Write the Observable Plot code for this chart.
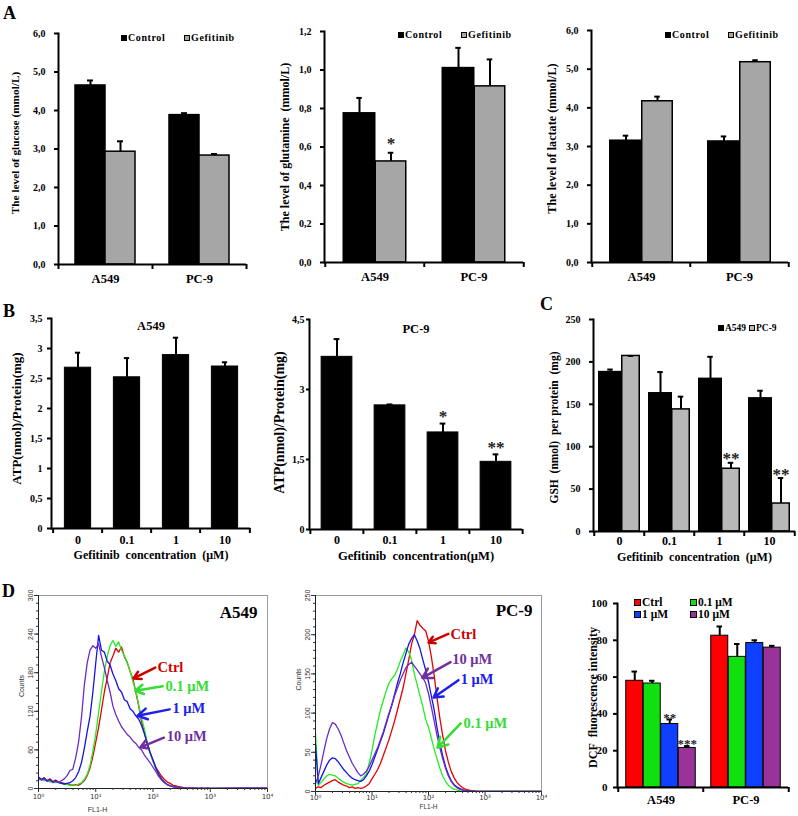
<!DOCTYPE html>
<html><head><meta charset="utf-8">
<script src="https://cdn.jsdelivr.net/npm/d3@7"></script>
<script src="https://cdn.jsdelivr.net/npm/@observablehq/plot@0.6"></script>
<style>
body{margin:0;background:#fff}
#fig{position:relative;width:798px;height:816px;overflow:hidden;background:#fff;font-family:'Liberation Serif',serif;font-weight:bold;color:#000}
.lbl{position:absolute;font-size:18px;line-height:1}
.leg{position:absolute;display:flex;align-items:center;white-space:nowrap}
.sw{display:inline-block;box-sizing:border-box;border:1px solid #000;margin-right:1px}
</style></head><body><div id="fig"></div>
<script>
// ---------- Panel A data ----------
const cellLines = ["A549", "PC-9"];
const treatmentsA = ["Control", "Gefitinib"];
const glucoseControl = [4.65, 3.88];
const glucoseControlSD = [0.13, 0.05];
const glucoseGefitinib = [2.93, 2.83];
const glucoseGefitinibSD = [0.27, 0.04];
const glutamineControl = [0.775, 1.01];
const glutamineControlSD = [0.08, 0.105];
const glutamineGefitinib = [0.525, 0.915];
const glutamineGefitinibSD = [0.045, 0.14];
const glutamineGefitinibSig = ["*", ""];
const lactateControl = [3.15, 3.13];
const lactateControlSD = [0.13, 0.13];
const lactateGefitinib = [4.17, 5.18];
const lactateGefitinibSD = [0.12, 0.05];
const ticksA6 = [0, 1, 2, 3, 4, 5, 6];
const tickLabelsA6 = ["0,0", "1,0", "2,0", "3,0", "4,0", "5,0", "6,0"];
const ticksA12 = [0, 0.2, 0.4, 0.6, 0.8, 1.0, 1.2];
const tickLabelsA12 = ["0,0", "0,2", "0,4", "0,6", "0,8", "1,0", "1,2"];

// ---------- Panel B data ----------
const concentrations = ["0", "0.1", "1", "10"];
const atpA549 = [2.68, 2.52, 2.89, 2.70];
const atpA549SD = [0.25, 0.32, 0.29, 0.07];
const atpPC9 = [3.70, 2.66, 2.08, 1.45];
const atpPC9SD = [0.38, 0.02, 0.19, 0.16];
const atpPC9Sig = ["", "", "*", "**"];
const ticksB1 = [0, 0.5, 1, 1.5, 2, 2.5, 3, 3.5];
const tickLabelsB1 = ["0", "0,5", "1", "1,5", "2", "2,5", "3", "3,5"];
const ticksB2 = [0, 1.5, 3, 4.5];
const tickLabelsB2 = ["0", "1,5", "3", "4,5"];

// ---------- Panel C data ----------
const gshA549 = [188, 163, 180, 157];
const gshA549SD = [3, 25, 26, 9];
const gshPC9 = [207, 144, 74, 33];
const gshPC9SD = [0, 15, 7, 30];
const gshPC9Sig = ["", "", "**", "**"];
const ticksC = [0, 50, 100, 150, 200, 250];
const tickLabelsC = ["0", "50", "100", "150", "200", "250"];

// ---------- Panel D data ----------
const doses = ["Ctrl", "0.1 μM", "1 μM", "10 μM"];
const dcfCtrl = [58, 82.5];
const dcfCtrlSD = [5, 5];
const dcf01 = [56.5, 71];
const dcf01SD = [1.5, 7];
const dcf1 = [34.5, 78.5];
const dcf1SD = [2.5, 1.5];
const dcf1Sig = ["**", ""];
const dcf10 = [21.5, 76];
const dcf10SD = [1, 1];
const dcf10Sig = ["***", ""];
const ticksD = [0, 20, 40, 60, 80, 100];
const tickLabelsD = ["0", "20", "40", "60", "80", "100"];

// flow cytometry histograms: log10(FL1-H) channel and counts
const flowLogFL1 = [0.00,0.05,0.10,0.15,0.20,0.25,0.30,0.35,0.40,0.45,
  0.50,0.55,0.60,0.65,0.70,0.75,0.80,0.85,0.90,0.95,
  1.00,1.05,1.10,1.15,1.20,1.25,1.30,1.35,1.40,1.45,
  1.50,1.55,1.60,1.65,1.70,1.75,1.80,1.85,1.90,1.95,
  2.00,2.05,2.10,2.15,2.20,2.25,2.30,2.35,2.40,2.45,
  2.50,2.55,2.60,2.65,2.70,2.75,2.80,2.85,2.90,2.95,
  3.00,3.50,4.00];
const a549FlowCtrl = [16,14,17,12,15,11,13,10,9,8,
  7,6,5,6,5,8,12,20,32,50,
  72,95,122,150,172,195,206,218,212,220,
  205,196,182,170,150,128,104,88,68,55,
  44,33,26,19,14,10,8,5,4,3,
  2,1,1,0,1,0,0,0,0,0,
  0,0,0];
const a549Flow01 = [13,15,12,14,10,12,9,10,8,7,
  6,5,6,5,7,9,14,22,36,58,
  85,118,150,182,205,222,230,221,228,215,
  206,195,182,166,152,130,110,92,72,56,
  42,30,21,14,9,6,4,3,2,1,
  1,0,0,0,0,0,0,0,0,0,
  0,0,0];
const a549Flow1 = [18,14,16,12,14,10,12,9,8,7,
  8,9,12,17,26,40,62,88,112,150,
  195,238,215,212,198,192,178,168,155,150,
  138,135,124,120,113,108,98,85,70,56,
  44,32,22,15,10,6,4,3,2,1,
  1,0,0,0,0,0,0,0,0,0,
  0,0,0];
const a549Flow10 = [16,13,15,11,13,9,11,10,12,15,
  20,28,30,48,72,110,160,195,215,222,
  218,225,205,188,168,150,128,115,105,96,
  90,84,80,74,70,64,60,52,46,40,
  33,26,19,13,9,6,4,3,2,1,
  1,1,0,1,0,1,0,1,0,1,
  0,1,1];
const pc9FlowCtrl = [4,6,5,8,10,12,14,15,12,10,
  8,7,5,6,4,5,4,5,7,10,
  16,22,28,36,46,56,66,78,90,104,
  118,132,150,168,188,200,218,212,208,205,
  192,172,148,120,94,72,52,38,26,18,
  12,8,5,3,2,1,1,0,0,0,
  0,0,0];
const pc9Flow01 = [75,8,12,16,20,22,21,20,17,14,
  12,10,9,8,9,10,14,18,22,36,
  52,72,88,104,116,128,138,144,148,156,
  166,174,183,178,168,150,136,122,108,92,
  82,68,54,42,30,20,13,8,5,3,
  2,1,0,0,0,0,0,0,0,0,
  0,0,0];
const pc9Flow1 = [60,10,18,26,34,40,43,42,38,33,
  28,24,20,17,15,14,13,15,20,26,
  34,44,54,64,74,86,98,110,124,138,
  150,164,176,188,195,200,192,182,168,155,
  140,122,104,82,62,46,32,22,14,9,
  6,4,2,1,1,0,0,0,0,0,
  0,0,0];
const pc9Flow10 = [10,20,35,52,68,80,88,86,80,72,
  62,52,44,36,30,24,20,22,26,32,
  40,48,56,66,76,88,100,110,122,132,
  142,150,158,162,165,160,155,150,145,138,
  125,108,90,72,56,42,30,20,13,8,
  5,3,2,1,1,0,0,0,0,0,
  0,0,0];
const flowTicks = [0, 1, 2, 3, 4];
const flowTickLabels = ["10⁰", "10¹", "10²", "10³", "10⁴"];
const a549CountTicks = [0, 60, 120, 180, 240, 300];
const pc9CountTicks = [0, 50, 100, 150, 200, 250];
// annotation labels (data space)
const a549FlowLabels = ["Ctrl", "0.1 μM", "1 μM", "10 μM"];
const a549FlowLabelX = [2.08, 2.22, 2.34, 2.24];
const a549FlowLabelY = [188, 159, 124, 81];
const a549ArrowX1 = [2.04, 2.17, 2.29, 2.19];
const a549ArrowY1 = [188, 159, 123, 79];
const a549ArrowX2 = [1.66, 1.69, 1.73, 1.78];
const a549ArrowY2 = [171, 152, 113, 64];
const pc9FlowLabels = ["Ctrl", "10 μM", "1 μM", "0.1 μM"];
const pc9FlowLabelX = [2.39, 2.42, 2.57, 2.62];
const pc9FlowLabelY = [200, 168, 143, 87];
const pc9ArrowX1 = [2.35, 2.39, 2.53, 2.57];
const pc9ArrowY1 = [201, 165, 142, 87];
const pc9ArrowX2 = [2.0, 1.89, 2.09, 2.16];
const pc9ArrowY2 = [190, 145, 120, 56];

// ---------- styles ----------
const SERIF = "'Liberation Serif', 'Times New Roman', serif";
const SANS = "'Liberation Sans', Arial, sans-serif";
const BLACK = "#000000", GRAY = "#a6a6a6";
const doseColor = {"Ctrl": "#ff0000", "0.1 μM": "#10e010", "1 μM": "#1040ff", "10 μM": "#993399"};
const flowColor = {"Ctrl": "#e80000", "0.1 μM": "#22ee22", "1 μM": "#1414e6", "10 μM": "#6a2cc4"};
const flowTextColor = {"Ctrl": "#cc0000", "0.1 μM": "#33dd33", "1 μM": "#2020ee", "10 μM": "#7030a0"};

const fig = document.getElementById("fig");
function place(node, left, top) {
  node.style.position = "absolute";
  node.style.left = left + "px";
  node.style.top = top + "px";
  fig.appendChild(node);
}
function label(text, left, top) {
  const d = document.createElement("div");
  d.className = "lbl"; d.textContent = text;
  place(d, left, top);
}
function legendItem(text, color, left, top, o) {
  const d = document.createElement("div");
  d.className = "leg";
  d.style.fontSize = o.font + "px";
  d.style.lineHeight = o.lh + "px";
  d.style.letterSpacing = (o.ls || 0) + "px";
  const s = document.createElement("span");
  s.className = "sw";
  s.style.width = o.sw + "px"; s.style.height = o.sw + "px"; s.style.background = color;
  d.appendChild(s);
  d.appendChild(document.createTextNode(text));
  place(d, left, top);
}

function barPanel(o) {
  const plotW = o.width - o.mL - o.mR;
  const bandW = plotW / o.groups.length;
  const total = d3.sum(o.series, s => s.w);
  let acc = -total / 2;
  const parts = o.series.map(s => {
    const l = acc; acc += s.w; const r = acc;
    const rows = o.groups.map((g, i) => ({group: g, value: s.values[i], top: s.values[i] + s.errors[i], sig: s.sig ? s.sig[i] : ""}));
    return {s, l, r, c: (l + r) / 2, rows};
  });
  const marks = [];
  for (const p of parts)
    marks.push(Plot.barY(p.rows, {x: "group", y: "value", fill: p.s.color, stroke: BLACK, strokeWidth: o.barStroke,
      insetLeft: bandW / 2 + p.l, insetRight: bandW / 2 - p.r}));
  for (const p of parts) {
    marks.push(Plot.ruleX(p.rows, {x: "group", y1: "value", y2: "top", dx: p.c, stroke: BLACK, strokeWidth: 2}));
    marks.push(Plot.tickY(p.rows, {x: "group", y: "top", insetLeft: bandW / 2 + p.c - o.cap, insetRight: bandW / 2 - p.c - o.cap, stroke: BLACK, strokeWidth: 2}));
    const sig = p.rows.filter(d => d.sig);
    if (sig.length) marks.push(Plot.text(sig, {x: "group", y: "top", text: "sig", dx: p.c, dy: o.sigDy, fontSize: o.sigSize, fill: "#222"}));
  }
  marks.push(Plot.ruleY([0], {stroke: BLACK, strokeWidth: 2}));
  marks.push(Plot.frame({anchor: "left", stroke: BLACK, strokeWidth: 2}));
  marks.push(Plot.ruleX(o.groups, {x: d => d, y1: 0, y2: 0, dx: -bandW / 2, insetBottom: -5, stroke: BLACK, strokeWidth: 2}));
  marks.push(Plot.ruleX([o.groups[o.groups.length - 1]], {x: d => d, y1: 0, y2: 0, dx: bandW / 2, insetBottom: -5, stroke: BLACK, strokeWidth: 2}));
  marks.push(Plot.axisY({ticks: o.yTicks, tickFormat: d => o.yTickLabels[o.yTicks.indexOf(d)], tickSize: o.tickSize, tickPadding: o.tickPadding, fontSize: o.tickFont, strokeWidth: 2, label: null}));
  marks.push(Plot.axisX({tickSize: 0, tickPadding: o.catPadding, fontSize: o.catFont, label: null}));
  marks.push(Plot.text([o.yLabel], {text: d => d, frameAnchor: "left", textAnchor: "middle", lineAnchor: "middle", dx: o.yLabelDx, dy: o.yLabelDy, rotate: -90, fontSize: o.labelFont}));
  if (o.xLabel) marks.push(Plot.text([o.xLabel], {text: d => d, frameAnchor: "bottom", textAnchor: "middle", lineAnchor: "middle", dy: o.xLabelDy, fontSize: o.xLabelFont}));
  if (o.title) marks.push(Plot.text([o.title], {text: d => d, frameAnchor: "top", textAnchor: "middle", lineAnchor: "middle", dy: o.titleDy, fontSize: o.titleFont}));
  const svg = Plot.plot({
    width: o.width, height: o.height,
    marginLeft: o.mL, marginRight: o.mR, marginTop: o.mT, marginBottom: o.mB,
    x: {type: "band", domain: o.groups, padding: 0, axis: null},
    y: {domain: o.yDomain, axis: null},
    style: {background: "transparent", fontFamily: SERIF, fontWeight: "bold", overflow: "visible", color: "#000"},
    marks
  });
  place(svg, o.left, o.top);
}

function flowPanel(o) {
  const marks = [Plot.frame({stroke: "#9a9a9a", strokeWidth: 1})];
  for (const c of o.curves)
    marks.push(Plot.line(o.xs.map((x, i) => ({x, y: c.values[i]})), {x: "x", y: "y", stroke: c.color, strokeWidth: 1.3, clip: true}));
  marks.push(Plot.ruleX([0], {stroke: "#222"}));
  marks.push(Plot.ruleY([0], {stroke: "#222"}));
  marks.push(Plot.axisY({ticks: o.yMinor, tickSize: 2, tickFormat: () => "", label: null, stroke: "#333"}));
  marks.push(Plot.axisY({ticks: o.yMajor, tickSize: 4, tickFormat: () => "", label: null, stroke: "#333"}));
  marks.push(Plot.text(o.yMajor, {y: d => d, text: d => String(d), frameAnchor: "left", textAnchor: "middle", lineAnchor: "middle", dx: -8, rotate: -90, fontSize: 7, fontFamily: SANS, fontWeight: "normal", fill: "#333"}));
  marks.push(Plot.axisX({ticks: o.xMinor, tickSize: 2, tickFormat: () => "", label: null, stroke: "#333"}));
  marks.push(Plot.axisX({ticks: flowTicks, tickSize: 4, tickPadding: o.xTickPad, tickFormat: d => flowTickLabels[flowTicks.indexOf(d)], fontSize: 7, fontFamily: "'DejaVu Sans', sans-serif", fontWeight: "normal", fill: "#333", label: null, stroke: "#333"}));
  marks.push(Plot.text(["FL1-H"], {text: d => d, x: o.fl1X, frameAnchor: "bottom", textAnchor: "middle", lineAnchor: "middle", dy: o.fl1Dy, fontSize: o.fl1Size, fontFamily: SANS, fontWeight: "normal", fill: "#333"}));
  marks.push(Plot.text(["Counts"], {text: d => d, frameAnchor: "left", textAnchor: "middle", lineAnchor: "middle", dx: -17, dy: o.countsDy, rotate: -90, fontSize: 7, fontFamily: SANS, fontWeight: "normal", fill: "#333"}));
  const ann = o.ann.labels.map((t, i) => ({t, tx: o.ann.tx[i], ty: o.ann.ty[i], x1: o.ann.x1[i], y1: o.ann.y1[i], x2: o.ann.x2[i], y2: o.ann.y2[i]}));
  marks.push(Plot.arrow(ann, {x1: "x1", y1: "y1", x2: "x2", y2: "y2", stroke: d => flowTextColor[d.t], strokeWidth: 2.5, headLength: 7, bend: 0}));
  marks.push(Plot.text(ann, {x: "tx", y: "ty", text: "t", fill: d => flowTextColor[d.t], textAnchor: "start", lineAnchor: "middle", fontSize: 14.5, fontFamily: SERIF, fontWeight: "bold"}));
  marks.push(Plot.text([o.title], {text: d => d, frameAnchor: "top-right", dx: o.titleDx, dy: o.titleDy, fontSize: 17, fontFamily: SERIF, fontWeight: "bold", textAnchor: "end", lineAnchor: "middle"}));
  const svg = Plot.plot({
    width: o.width, height: o.height,
    marginLeft: o.mL, marginRight: o.mR, marginTop: o.mT, marginBottom: o.mB,
    x: {type: "linear", domain: [0, 4], axis: null},
    y: {type: "linear", domain: o.yDomain, axis: null},
    color: {type: "identity"},
    style: {background: "transparent", fontFamily: SANS, overflow: "visible", color: "#000"},
    marks
  });
  place(svg, o.left, o.top);
}

const minorLog = d3.range(0, 4).flatMap(k => d3.range(2, 10).map(m => k + Math.log10(m)));

// ---------- Row A ----------
const commonA = {top: 0, width: 266, height: 292, tickSize: 4, tickPadding: 9, tickFont: 10, catPadding: 10, catFont: 12.5, barStroke: 1.5, cap: 3, sigDy: -9, sigSize: 17};
barPanel({...commonA, left: 0, mL: 58, mR: 20, mT: 33, mB: 28, groups: cellLines,
  series: [{values: glucoseControl, errors: glucoseControlSD, color: BLACK, w: 30},
           {values: glucoseGefitinib, errors: glucoseGefitinibSD, color: GRAY, w: 30}],
  yDomain: [0, 6], yTicks: ticksA6, yTickLabels: tickLabelsA6,
  yLabel: "The level of glucose (mmol/L)", labelFont: 11.3, yLabelDx: -43, yLabelDy: -6});
barPanel({...commonA, left: 266, mL: 58, mR: 9, mT: 31, mB: 30, groups: cellLines,
  series: [{values: glutamineControl, errors: glutamineControlSD, color: BLACK, w: 32},
           {values: glutamineGefitinib, errors: glutamineGefitinibSD, color: GRAY, w: 31, sig: glutamineGefitinibSig}],
  yDomain: [0, 1.2], yTicks: ticksA12, yTickLabels: tickLabelsA12,
  yLabel: "The level of glutamine\u00a0 (mmol/L)", labelFont: 12, yLabelDx: -39, yLabelDy: 0});
barPanel({...commonA, left: 532, mL: 59, mR: 10, mT: 30, mB: 30, groups: cellLines,
  series: [{values: lactateControl, errors: lactateControlSD, color: BLACK, w: 32},
           {values: lactateGefitinib, errors: lactateGefitinibSD, color: GRAY, w: 31}],
  yDomain: [0, 6], yTicks: ticksA6, yTickLabels: tickLabelsA6,
  yLabel: "The level of lactate (mmol/L)", labelFont: 12.2, yLabelDx: -39, yLabelDy: -8});

// ---------- Row B / C ----------
const commonB = {top: 290, width: 266, height: 280, tickFont: 10, catFont: 12, xLabelFont: 12, barStroke: 1, cap: 3, sigSize: 17, titleFont: 12.5};
barPanel({...commonB, left: 0, mL: 51, mR: 16, mT: 28, mB: 42, groups: concentrations,
  series: [{values: atpA549, errors: atpA549SD, color: BLACK, w: 27}],
  yDomain: [0, 3.5], yTicks: ticksB1, yTickLabels: tickLabelsB1, tickSize: 4, tickPadding: 5, catPadding: 7,
  yLabel: "ATP(nmol)/Protein(mg)", labelFont: 13, yLabelDx: -35, yLabelDy: -5,
  xLabel: "Gefitinib\u00a0 concentration\u00a0 (μM)", xLabelDy: 27, title: "A549", titleDy: 7, sigDy: -8});
barPanel({...commonB, left: 266, mL: 43, mR: 10, mT: 29, mB: 41, groups: concentrations,
  series: [{values: atpPC9, errors: atpPC9SD, color: BLACK, w: 31, sig: atpPC9Sig}],
  yDomain: [0, 4.5], yTicks: ticksB2, yTickLabels: tickLabelsB2, tickSize: 3, tickPadding: 2, catPadding: 6,
  yLabel: "ATP(nmol)/Protein(mg)", labelFont: 14, yLabelDx: -30, yLabelDy: -2,
  xLabel: "Gefitinib\u00a0 concentration(μM)", xLabelFont: 12.6, xLabelDy: 26, title: "PC-9", titleDy: 9, sigDy: -7});
barPanel({...commonB, left: 532, mL: 61, mR: 3, mT: 29, mB: 39, groups: concentrations,
  series: [{values: gshA549, errors: gshA549SD, color: BLACK, w: 23},
           {values: gshPC9, errors: gshPC9SD, color: "#b8b8b8", w: 18, sig: gshPC9Sig}],
  yDomain: [0, 250], yTicks: ticksC, yTickLabels: tickLabelsC, tickSize: 4, tickPadding: 9, catPadding: 5, barStroke: 1.5,
  yLabel: "GSH\u00a0 (nmol)\u00a0 per protein\u00a0 (mg)", labelFont: 11.5, yLabelDx: -39, yLabelDy: 2,
  xLabel: "Gefitinib\u00a0 concentration\u00a0 (μM)", xLabelDy: 25.5, sigDy: -4});

// ---------- Row D ----------
flowPanel({left: 0, top: 580, width: 278, height: 236, mL: 38, mR: 11, mT: 15, mB: 28,
  xs: flowLogFL1, yDomain: [0, 300], yMajor: a549CountTicks, yMinor: d3.range(0, 301, 12), xMinor: minorLog,
  xTickPad: 2, fl1X: 1.03, fl1Dy: 21, fl1Size: 7, countsDy: -6, title: "A549", titleDx: -10, titleDy: 17,
  curves: [{values: a549FlowCtrl, color: flowColor["Ctrl"]}, {values: a549Flow01, color: flowColor["0.1 μM"]},
           {values: a549Flow1, color: flowColor["1 μM"]}, {values: a549Flow10, color: flowColor["10 μM"]}],
  ann: {labels: a549FlowLabels, tx: a549FlowLabelX, ty: a549FlowLabelY, x1: a549ArrowX1, y1: a549ArrowY1, x2: a549ArrowX2, y2: a549ArrowY2}});
flowPanel({left: 280, top: 580, width: 262, height: 236, mL: 35, mR: 1, mT: 15, mB: 25,
  xs: flowLogFL1, yDomain: [0, 250], yMajor: pc9CountTicks, yMinor: d3.range(0, 251, 10), xMinor: minorLog,
  xTickPad: 0, fl1X: 2.0, fl1Dy: 15, fl1Size: 6.5, countsDy: -14, title: "PC-9", titleDx: -9, titleDy: 15,
  curves: [{values: pc9FlowCtrl, color: flowColor["Ctrl"]}, {values: pc9Flow01, color: flowColor["0.1 μM"]},
           {values: pc9Flow1, color: flowColor["1 μM"]}, {values: pc9Flow10, color: flowColor["10 μM"]}],
  ann: {labels: pc9FlowLabels, tx: pc9FlowLabelX, ty: pc9FlowLabelY, x1: pc9ArrowX1, y1: pc9ArrowY1, x2: pc9ArrowX2, y2: pc9ArrowY2}});
barPanel({left: 540, top: 580, width: 258, height: 236, mL: 77, mR: 10, mT: 23, mB: 29, groups: cellLines,
  series: [{values: dcfCtrl, errors: dcfCtrlSD, color: doseColor["Ctrl"], w: 17.5},
           {values: dcf01, errors: dcf01SD, color: doseColor["0.1 μM"], w: 17.5},
           {values: dcf1, errors: dcf1SD, color: doseColor["1 μM"], w: 17.5, sig: dcf1Sig},
           {values: dcf10, errors: dcf10SD, color: doseColor["10 μM"], w: 17.5, sig: dcf10Sig}],
  yDomain: [0, 100], yTicks: ticksD, yTickLabels: tickLabelsD, tickSize: 4, tickPadding: 6, tickFont: 11,
  catPadding: 8, catFont: 12.5, labelFont: 12, barStroke: 1, cap: 3, sigDy: -2, sigSize: 13,
  yLabel: "DCF\u00a0 fluorescence intensity", yLabelDx: -24, yLabelDy: 2});

// ---------- legends ----------
const legA = {font: 10, lh: 12, sw: 6, ls: 0.6};
[[121, 32], [398, 29], [665, 29]].forEach(([x, y]) => {
  legendItem(treatmentsA[0], BLACK, x, y, legA);
  legendItem(treatmentsA[1], GRAY, x + 63, y, legA);
});
legendItem(cellLines[0], BLACK, 718, 322, {font: 9.5, lh: 12, sw: 6, ls: 0});
legendItem(cellLines[1], "#b8b8b8", 749, 322, {font: 9.5, lh: 12, sw: 6, ls: 0});
legendItem(doses[0], doseColor[doses[0]], 634, 597, {font: 11.5, lh: 11.5, sw: 7});
legendItem(doses[1], doseColor[doses[1]], 690, 597, {font: 11.5, lh: 11.5, sw: 7});
legendItem(doses[2], doseColor[doses[2]], 634, 609, {font: 11.5, lh: 11.5, sw: 7});
legendItem(doses[3], doseColor[doses[3]], 690, 609, {font: 11.5, lh: 11.5, sw: 7});

// ---------- panel letters ----------
label("A", 3, 4);
label("B", 3, 302);
label("C", 540, 295);
label("D", 2, 582);
</script></body></html>
